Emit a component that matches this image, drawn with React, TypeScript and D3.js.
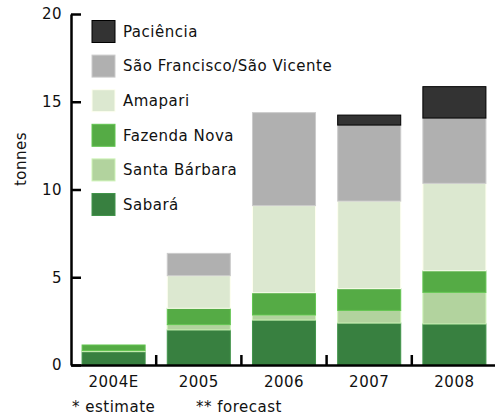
import { useEffect, useRef } from "react";
import * as d3 from "d3";

const years = ["2004E", "2005", "2006", "2007", "2008"];
const mines = ["Sabará", "Santa Bárbara", "Fazenda Nova", "Amapari", "São Francisco/São Vicente", "Paciência"];
const colours = ["#388040", "#b2d39e", "#55ab45", "#dce8d0", "#b0b0b0", "#333333"];

// tonnes per mine, one value per year
const sabara = [0.76, 2.0, 2.56, 2.39, 2.34];
const santaBarbara = [0.07, 0.3, 0.29, 0.72, 1.8];
const fazendaNova = [0.31, 0.93, 1.27, 1.24, 1.23];
const amapari = [0, 1.86, 4.96, 4.99, 4.98];
const saoFrancisco = [0, 1.27, 5.3, 4.33, 3.72];
const paciencia = [0, 0, 0, 0.57, 1.79];

const yTicks = [0, 5, 10, 15, 20];

function App() {
  const ref = useRef<SVGSVGElement>(null);
  const width = 495;
  const height = 416;

  useEffect(() => {
    const svg = d3.select(ref.current);
    svg.selectAll("*").remove();
    const font = "DejaVu Sans, Verdana, sans-serif";
    const txt = (sel: any) =>
      sel.attr("font-family", font).attr("font-size", 15).attr("letter-spacing", 0.5).attr("fill", "#111");

    const series = [sabara, santaBarbara, fazendaNova, amapari, saoFrancisco, paciencia];
    const rows = years.map((yr, i) => {
      const row: any = { year: yr };
      mines.forEach((m, j) => (row[m] = series[j][i]));
      return row;
    });
    const stacked = d3.stack().keys(mines)(rows);

    const x = d3.scaleBand().domain(years).range([71, 497]).paddingInner(0.26).paddingOuter(0.13);
    const y = d3.scaleLinear().domain([0, 20]).range([365, 14]);
    const colour = d3.scaleOrdinal<string>().domain(mines).range(colours);
    const edge = (k: string) => (k === "Paciência" ? "#000" : d3.color(colour(k))!.brighter(0.4).formatHex());

    // bars
    const layers = svg
      .append("g")
      .selectAll("g")
      .data(stacked)
      .join("g")
      .attr("fill", (d) => colour(d.key));
    layers
      .selectAll("rect")
      .data((d) => d.map((v) => ({ v, key: (d as any).key })))
      .join("rect")
      .filter((d) => d.v[1] - d.v[0] > 0)
      .attr("x", (d) => x(d.v.data.year as string)!)
      .attr("width", x.bandwidth())
      .attr("y", (d) => y(d.v[1]))
      .attr("height", (d) => y(d.v[0]) - y(d.v[1]))
      .attr("stroke", (d) => edge(d.key))
      .attr("stroke-width", 1);

    // y axis
    const yAxis = svg
      .append("g")
      .attr("transform", "translate(71,0)")
      .call(d3.axisLeft(y).tickValues(yTicks).tickSizeInner(-10).tickSizeOuter(0).tickPadding(9));
    yAxis.select(".domain").attr("stroke", "#000").attr("stroke-width", 2.5);
    yAxis.selectAll(".tick line").attr("stroke", "#000").attr("stroke-width", 2.5);
    txt(yAxis.selectAll("text"));

    // x axis
    const xAxis = svg
      .append("g")
      .attr("transform", "translate(0,365)")
      .call(d3.axisBottom(x).tickSize(0).tickPadding(11));
    xAxis.select(".domain").attr("stroke", "#000").attr("stroke-width", 2.5);
    txt(xAxis.selectAll("text"));
    xAxis
      .selectAll("line.sep")
      .data(years.slice(1))
      .join("line")
      .attr("class", "sep")
      .attr("x1", (d) => x(d)! - (x.step() * x.paddingInner()) / 2)
      .attr("x2", (d) => x(d)! - (x.step() * x.paddingInner()) / 2)
      .attr("y1", 0)
      .attr("y2", -10)
      .attr("stroke", "#000")
      .attr("stroke-width", 2.5);

    txt(
      svg
        .append("text")
        .attr("transform", "translate(26,159) rotate(-90)")
        .attr("text-anchor", "middle")
        .text("tonnes")
    );

    // legend, top entry is last stacked
    const legend = svg
      .append("g")
      .selectAll("g")
      .data(mines.slice().reverse())
      .join("g")
      .attr("transform", (d, i) => `translate(92,${20.5 + i * 34.6})`);
    legend
      .append("rect")
      .attr("width", 23)
      .attr("height", 22)
      .attr("fill", (d) => colour(d))
      .attr("stroke", (d) => edge(d));
    txt(
      legend
        .append("text")
        .attr("x", 31)
        .attr("y", 11)
        .attr("dy", "0.35em")
        .text((d) => d)
    );

    const notes = [
      { t: "* estimate", x: 72 },
      { t: "** forecast", x: 196 },
    ];
    txt(
      svg
        .append("g")
        .selectAll("text")
        .data(notes)
        .join("text")
        .attr("x", (d) => d.x)
        .attr("y", 412)
        .text((d) => d.t)
    );
  }, []);

  return (
    <svg
      ref={ref}
      width={width}
      height={height}
      style={{ position: "absolute", left: 0, top: 0, background: "#fff" }}
    />
  );
}

export default App;
